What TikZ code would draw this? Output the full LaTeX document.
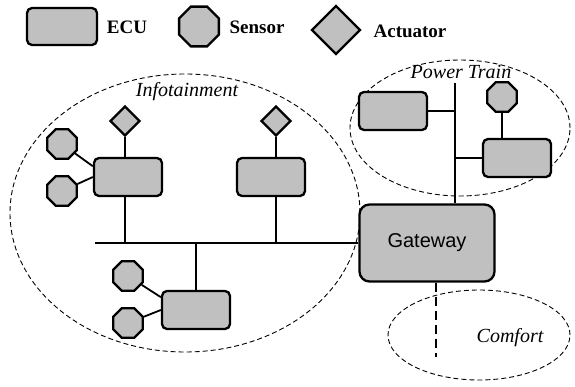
\documentclass[tikz,border=0pt]{standalone}
\usepackage{fontspec}
\setmainfont{Liberation Serif}
\newfontfamily\gwfont{Liberation Sans}
\usetikzlibrary{shapes.geometric}
\definecolor{boxgray}{HTML}{C0C0C0}

\begin{document}
\begin{tikzpicture}[x=1pt,y=-1pt,line width=1.8pt,
  every node/.style={font=\fontsize{19}{22}\selectfont},
  ecu/.style={draw,line width=2.3pt,fill=boxgray,rounded corners=5pt,inner sep=0pt,
              minimum width=68pt,minimum height=38pt},
  sensor/.style={draw,line width=2.3pt,fill=boxgray,regular polygon,regular polygon sides=8,
                 inner sep=0pt,minimum size=32pt},
  actuator/.style={draw,line width=2.3pt,fill=boxgray,diamond,inner sep=0pt,minimum size=30pt},
  zone/.style={draw,line width=0.9pt,dash pattern=on 5pt off 3pt},
  zonelabel/.style={font=\fontsize{20}{24}\selectfont\itshape},
  legendlabel/.style={font=\fontsize{19}{22}\selectfont\bfseries}]
\useasboundingbox (0,0) rectangle (575,387);

\draw[zone] (185,213) ellipse [x radius=175pt,y radius=139pt];
\draw[zone] (460,128) ellipse [x radius=110pt,y radius=68pt];
\draw[zone] (479,335) ellipse [x radius=91pt,y radius=45pt];
\node[zonelabel] (lInfo)    at (187,92)  {Infotainment};
\node[zonelabel] (lPower)   at (461,72)  {Power Train};
\node[zonelabel] (lComfort) at (510,338) {Comfort};

\node[ecu,minimum width=70pt,minimum height=37pt] (kEcu) at (62,26.5) {};
\node[legendlabel] (tEcu) at (127,27) {ECU};
\node[sensor,minimum size=43pt] (kSen) at (199,26.5) {};
\node[legendlabel] (tSen) at (257,27) {Sensor};
\node[actuator,minimum size=49pt] (kAct) at (336,30) {};
\node[legendlabel] (tAct) at (410,31) {Actuator};

\node[ecu,rounded corners=10pt,minimum width=135pt,minimum height=77pt,
      font=\fontsize{20}{24}\selectfont\gwfont] (gw) at (427,243) {Gateway};

\coordinate (busL) at (95,243);
\coordinate (ptTop) at (455,83);
\coordinate (cfEnd) at (436,357);

\node[ecu] (e1) at (128,177) {};
\node[ecu] (e2) at (271,177) {};
\node[ecu] (e3) at (196,310) {};
\node[actuator] (a1) at (125,121) {};
\node[actuator] (a2) at (276,121) {};
\node[sensor] (s1) at (62,144) {};
\node[sensor] (s2) at (62,191) {};
\node[sensor] (s3) at (128,276) {};
\node[sensor] (s4) at (128,323) {};

\node[ecu] (p1) at (393,111) {};
\node[ecu] (p2) at (517,158) {};
\node[sensor] (s5) at (502,97) {};

\draw (busL) -- (gw.west);
\draw (a1.south) -- (a1.south |- e1.north);
\draw (a2.south) -- (a2.south |- e2.north);
\draw (e1.south -| a1.south) -- (a1.south |- busL);
\draw (e2.south -| a2.south) -- (a2.south |- busL);
\draw (e3.north) -- (e3.north |- busL);
\draw (s1) -- (e1.163);
\draw (s2) -- (e1.west);
\draw (s3) -- (e3.160);
\draw (s4) -- (e3.west);

\draw (ptTop) -- (ptTop |- gw.north);
\draw (p1.east) -- (p1.east -| ptTop);
\draw (p2.west) -- (p2.west -| ptTop);
\draw (s5.south) -- (s5.south |- p2.north);

\draw[line width=2pt,dash pattern=on 9pt off 5pt] (gw.south -| cfEnd) -- (cfEnd);
\end{tikzpicture}
\end{document}
